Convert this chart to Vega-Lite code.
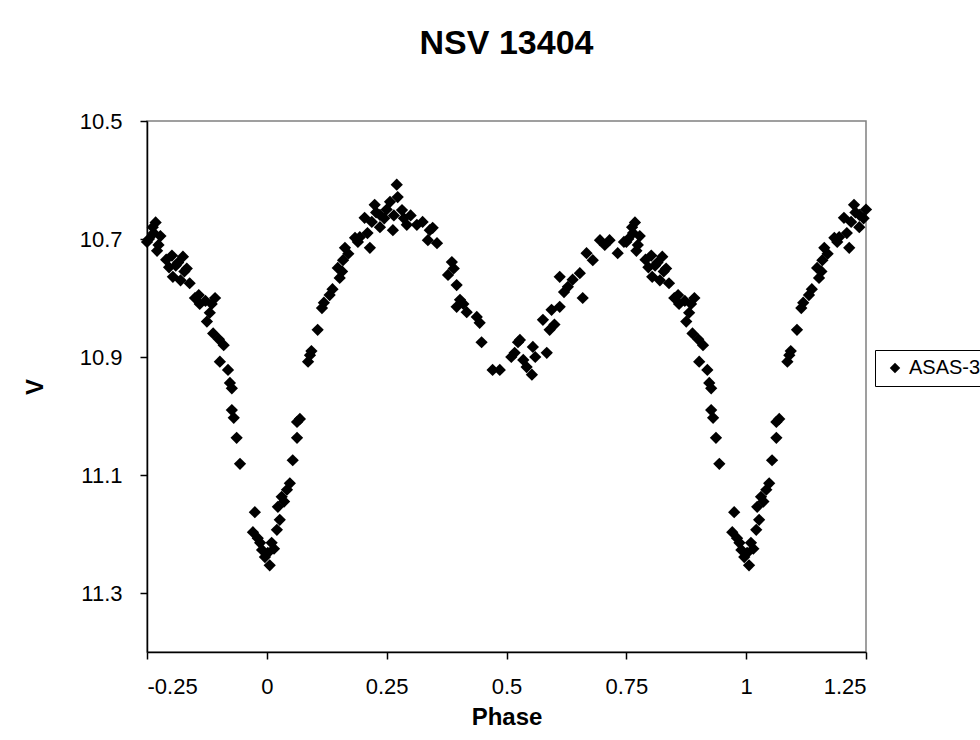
{
  "$schema": "https://vega.github.io/schema/vega-lite/v6.json",
  "width": 719,
  "height": 531,
  "autosize": {"type": "none"},
  "padding": {"left": 147, "top": 121, "right": 114, "bottom": 88},
  "background": "white",
  "title": {"text": "NSV 13404", "fontSize": 34, "fontWeight": "bold", "font": "Liberation Sans", "color": "black", "offset": 49, "anchor": "middle"},
  "data": {"values": [
    {"p":-0.250,"v":10.705},{"p":-0.246,"v":10.700},{"p":-0.238,"v":10.680},{"p":-0.236,"v":10.690},{"p":-0.232,"v":10.672},{"p":-0.229,"v":10.720},{"p":-0.226,"v":10.710},{"p":-0.222,"v":10.695},{"p":-0.210,"v":10.735},{"p":-0.204,"v":10.748},{"p":-0.198,"v":10.728},{"p":-0.196,"v":10.764},{"p":-0.190,"v":10.745},{"p":-0.185,"v":10.740},{"p":-0.180,"v":10.770},{"p":-0.175,"v":10.730},{"p":-0.172,"v":10.755},{"p":-0.167,"v":10.750},{"p":-0.161,"v":10.775},{"p":-0.150,"v":10.800},{"p":-0.142,"v":10.795},{"p":-0.140,"v":10.810},{"p":-0.128,"v":10.805},{"p":-0.125,"v":10.840},{"p":-0.119,"v":10.825},{"p":-0.115,"v":10.810},{"p":-0.108,"v":10.800},{"p":-0.112,"v":10.860},{"p":-0.100,"v":10.870},{"p":-0.098,"v":10.908},{"p":-0.090,"v":10.880},{"p":-0.081,"v":10.922},{"p":-0.077,"v":10.944},{"p":-0.073,"v":10.953},{"p":-0.073,"v":10.990},{"p":-0.069,"v":11.003},{"p":-0.063,"v":11.037},{"p":-0.056,"v":11.081},{"p":-0.025,"v":11.163},{"p":-0.029,"v":11.197},{"p":-0.019,"v":11.207},{"p":-0.014,"v":11.215},{"p":-0.010,"v":11.227},{"p":-0.004,"v":11.239},
    {"p":0.002,"v":11.232},{"p":0.006,"v":11.253},{"p":0.010,"v":11.215},{"p":0.015,"v":11.225},{"p":0.021,"v":11.193},{"p":0.023,"v":11.154},{"p":0.027,"v":11.176},{"p":0.031,"v":11.137},{"p":0.036,"v":11.145},{"p":0.042,"v":11.125},{"p":0.048,"v":11.114},{"p":0.054,"v":11.075},{"p":0.063,"v":11.037},{"p":0.063,"v":11.010},{"p":0.069,"v":11.005},{"p":0.086,"v":10.908},{"p":0.090,"v":10.897},{"p":0.093,"v":10.890},{"p":0.106,"v":10.854},{"p":0.115,"v":10.817},{"p":0.119,"v":10.808},{"p":0.131,"v":10.795},{"p":0.137,"v":10.785},{"p":0.148,"v":10.749},{"p":0.152,"v":10.766},{"p":0.157,"v":10.755},{"p":0.159,"v":10.736},{"p":0.163,"v":10.715},{"p":0.170,"v":10.725},{"p":0.184,"v":10.698},{"p":0.190,"v":10.705},{"p":0.194,"v":10.697},{"p":0.204,"v":10.664},{"p":0.210,"v":10.690},{"p":0.215,"v":10.715},{"p":0.219,"v":10.671},{"p":0.225,"v":10.642},{"p":0.228,"v":10.655},{"p":0.236,"v":10.680},{"p":0.236,"v":10.659},{"p":0.245,"v":10.665},{"p":0.250,"v":10.650},
    {"p":0.257,"v":10.637},{"p":0.263,"v":10.685},{"p":0.265,"v":10.660},{"p":0.271,"v":10.608},{"p":0.273,"v":10.629},{"p":0.282,"v":10.651},{"p":0.286,"v":10.665},{"p":0.292,"v":10.676},{"p":0.300,"v":10.660},{"p":0.313,"v":10.676},{"p":0.325,"v":10.671},{"p":0.336,"v":10.702},{"p":0.340,"v":10.685},{"p":0.346,"v":10.681},{"p":0.355,"v":10.707},{"p":0.378,"v":10.761},{"p":0.386,"v":10.739},{"p":0.390,"v":10.750},{"p":0.396,"v":10.778},{"p":0.396,"v":10.815},{"p":0.403,"v":10.803},{"p":0.410,"v":10.810},{"p":0.417,"v":10.824},{"p":0.438,"v":10.832},{"p":0.444,"v":10.842},{"p":0.448,"v":10.875},{"p":0.471,"v":10.922},{"p":0.486,"v":10.922},{"p":0.510,"v":10.900},{"p":0.517,"v":10.893},{"p":0.524,"v":10.875},{"p":0.528,"v":10.871},{"p":0.535,"v":10.905},{"p":0.542,"v":10.917},{"p":0.553,"v":10.930},{"p":0.555,"v":10.883},{"p":0.560,"v":10.900},{"p":0.576,"v":10.837},{"p":0.584,"v":10.893},{"p":0.590,"v":10.854},{"p":0.594,"v":10.820},{"p":0.600,"v":10.845},{"p":0.611,"v":10.815},{"p":0.611,"v":10.764},{"p":0.620,"v":10.790},{"p":0.628,"v":10.781},{"p":0.638,"v":10.769},{"p":0.653,"v":10.758},{"p":0.659,"v":10.800},{"p":0.667,"v":10.724},{"p":0.680,"v":10.736},{"p":0.695,"v":10.702},{"p":0.705,"v":10.710},{"p":0.715,"v":10.702},{"p":0.732,"v":10.724},{"p":0.745,"v":10.705},
    {"p":0.750,"v":10.705},{"p":0.754,"v":10.700},{"p":0.762,"v":10.680},{"p":0.764,"v":10.690},{"p":0.768,"v":10.672},{"p":0.771,"v":10.720},{"p":0.774,"v":10.710},{"p":0.778,"v":10.695},{"p":0.790,"v":10.735},{"p":0.796,"v":10.748},{"p":0.802,"v":10.728},{"p":0.804,"v":10.764},{"p":0.810,"v":10.745},{"p":0.815,"v":10.740},{"p":0.820,"v":10.770},{"p":0.825,"v":10.730},{"p":0.828,"v":10.755},{"p":0.833,"v":10.750},{"p":0.839,"v":10.775},{"p":0.850,"v":10.800},{"p":0.858,"v":10.795},{"p":0.860,"v":10.810},{"p":0.872,"v":10.805},{"p":0.875,"v":10.840},{"p":0.881,"v":10.825},{"p":0.885,"v":10.810},{"p":0.892,"v":10.800},{"p":0.888,"v":10.860},{"p":0.900,"v":10.870},{"p":0.902,"v":10.908},{"p":0.910,"v":10.880},{"p":0.919,"v":10.922},{"p":0.923,"v":10.944},{"p":0.927,"v":10.953},{"p":0.927,"v":10.990},{"p":0.931,"v":11.003},{"p":0.937,"v":11.037},{"p":0.944,"v":11.081},{"p":0.975,"v":11.163},{"p":0.971,"v":11.197},{"p":0.981,"v":11.207},{"p":0.986,"v":11.215},{"p":0.990,"v":11.227},{"p":0.996,"v":11.239},
    {"p":1.002,"v":11.232},{"p":1.006,"v":11.253},{"p":1.010,"v":11.215},{"p":1.015,"v":11.225},{"p":1.021,"v":11.193},{"p":1.023,"v":11.154},{"p":1.027,"v":11.176},{"p":1.031,"v":11.137},{"p":1.036,"v":11.145},{"p":1.042,"v":11.125},{"p":1.048,"v":11.114},{"p":1.054,"v":11.075},{"p":1.063,"v":11.037},{"p":1.063,"v":11.010},{"p":1.069,"v":11.005},{"p":1.086,"v":10.908},{"p":1.090,"v":10.897},{"p":1.093,"v":10.890},{"p":1.106,"v":10.854},{"p":1.115,"v":10.817},{"p":1.119,"v":10.808},{"p":1.131,"v":10.795},{"p":1.137,"v":10.785},{"p":1.148,"v":10.749},{"p":1.152,"v":10.766},{"p":1.157,"v":10.755},{"p":1.159,"v":10.736},{"p":1.163,"v":10.715},{"p":1.170,"v":10.725},{"p":1.184,"v":10.698},{"p":1.190,"v":10.705},{"p":1.194,"v":10.697},{"p":1.204,"v":10.664},{"p":1.210,"v":10.690},{"p":1.215,"v":10.715},{"p":1.219,"v":10.671},{"p":1.225,"v":10.642},{"p":1.228,"v":10.655},{"p":1.236,"v":10.680},{"p":1.236,"v":10.659},{"p":1.245,"v":10.665},{"p":1.250,"v":10.650}
  ]},
  "mark": {"type": "point", "shape": "diamond", "filled": true, "size": 150, "opacity": 1, "clip": false},
  "encoding": {
    "x": {
      "field": "p", "type": "quantitative",
      "scale": {"domain": [-0.25, 1.25], "nice": false, "zero": false},
      "axis": {
        "title": "Phase",
        "values": [-0.25, 0, 0.25, 0.5, 0.75, 1, 1.25],
        "labelExpr": "'' + datum.value",
        "grid": false,
        "tickSize": 7,
        "labelPadding": 17,
        "titlePadding": 8,
        "encode": {"ticks": {"enter": {"y": {"value": -7}, "y2": {"value": 7}}, "update": {"y": {"value": -7}, "y2": {"value": 7}}}}
      }
    },
    "y": {
      "field": "v", "type": "quantitative",
      "scale": {"domain": [10.5, 11.4], "reverse": true, "nice": false, "zero": false},
      "axis": {
        "title": "V",
        "values": [10.5, 10.7, 10.9, 11.1, 11.3],
        "format": ".1f",
        "grid": false,
        "tickSize": 7,
        "labelPadding": 18,
        "titlePadding": 32,
        "encode": {"ticks": {"enter": {"x": {"value": 7}, "x2": {"value": -7}}, "update": {"x": {"value": 7}, "x2": {"value": -7}}}}
      }
    },
    "color": {
      "datum": "ASAS-3",
      "type": "nominal",
      "scale": {"range": ["black"]},
      "legend": {
        "title": null,
        "orient": "none",
        "legendX": 728,
        "legendY": 229,
        "symbolType": "diamond",
        "symbolSize": 70,
        "symbolFillColor": "black",
        "symbolStrokeColor": "black",
        "labelFontSize": 20,
        "labelColor": "black",
        "labelFont": "Liberation Sans",
        "strokeColor": "black",
        "fillColor": "white",
        "padding": 8,
        "symbolOffset": 2
      }
    }
  },
  "config": {
    "font": "Liberation Sans",
    "view": {"stroke": "#808080", "strokeWidth": 1.5},
    "axis": {
      "domainColor": "black",
      "domainWidth": 1.5,
      "tickColor": "black",
      "tickWidth": 1.5,
      "labelFont": "Liberation Sans",
      "labelFontSize": 22,
      "labelColor": "black",
      "titleFont": "Liberation Sans",
      "titleFontSize": 24,
      "titleFontWeight": "bold",
      "titleColor": "black"
    }
  }
}
